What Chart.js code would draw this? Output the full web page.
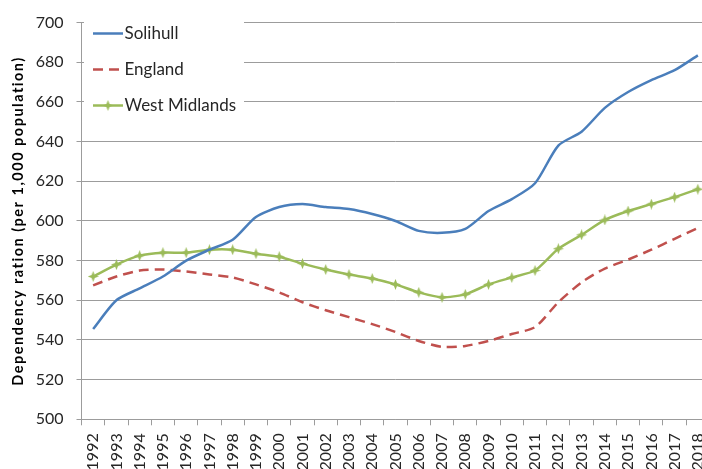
<!DOCTYPE html>
<html><head><meta charset="utf-8">
<script src="https://cdn.jsdelivr.net/npm/chart.js@4/dist/chart.umd.min.js"></script>
<style>
html,body{margin:0;padding:0;overflow:hidden;background:#fff;width:702px;height:469px}
#wrap{position:absolute;left:0;top:0;width:717px;height:469px}
canvas{display:block}
</style></head><body>
<div id="wrap"><canvas id="c" width="717" height="469"></canvas></div>
<script>
const years = ['1992','1993','1994','1995','1996','1997','1998','1999','2000','2001','2002','2003','2004','2005','2006','2007','2008','2009','2010','2011','2012','2013','2014','2015','2016','2017','2018'];
const solihull = [545.5,560,566,572,580,585.5,590.5,602,607,608.5,607,606,603.5,600,595,594,596,605,611,619,638,645,657,665,671,676,683.5];
const england = [567.5,572,575,575.5,574.5,573,571.5,568,564,559,555,551.5,548,544,539.5,536.5,537,539.5,543,546.5,559,569,576,580.5,585.5,591,596.5];
const westMidlands = [572,578,582.5,584,584,585.5,585.5,583.5,582,578.5,575.5,573,571,568,564,561.5,563,568,571.5,575,586,593,600.5,605,608.5,612,616];
const seriesNames = ['Solihull','England','West Midlands'];
const yMin = 500, yMax = 700, yStep = 20;
const yTitle = 'Dependency ration (per 1,000 population)';

const BLUE = '#4a7ebb', RED = '#c0504d', GREEN = '#9bbb59';
const GRID = '#9c9c9c';
const FONT = 'Lato, "Liberation Sans", sans-serif';

function starCanvas(size, color){
  const c = document.createElement('canvas');
  c.width = size; c.height = size;
  const g = c.getContext('2d');
  const m = size/2, k = size*0.36, j = size*0.64;
  g.fillStyle = color;
  g.beginPath();
  g.moveTo(m,0); g.lineTo(j,k); g.lineTo(size,m); g.lineTo(j,j);
  g.lineTo(m,size); g.lineTo(k,j); g.lineTo(0,m); g.lineTo(k,k);
  g.closePath(); g.fill();
  return c;
}
const star = starCanvas(11, GREEN);

const legendPlugin = {
  id: 'boxLegend',
  beforeDatasetsDraw(chart){
    const ctx = chart.ctx;
    ctx.save();
    ctx.fillStyle = '#fff';
    ctx.fillRect(84, 16, 160, 103);
    const items = [
      {name: seriesNames[0], color: BLUE, dash: [], y: 33.5},
      {name: seriesNames[1], color: RED, dash: [10,6], y: 69.5},
      {name: seriesNames[2], color: GREEN, dash: [], y: 105.5, marker: true}
    ];
    items.forEach(it => {
      ctx.strokeStyle = it.color;
      ctx.lineWidth = 2.5;
      ctx.setLineDash(it.dash);
      ctx.beginPath(); ctx.moveTo(93, it.y); ctx.lineTo(123, it.y); ctx.stroke();
      ctx.setLineDash([]);
      if (it.marker) ctx.drawImage(star, 108-5.5, it.y-5.5);
      ctx.fillStyle = '#262626';
      ctx.font = '17px ' + FONT;
      ctx.textBaseline = 'middle';
      ctx.textAlign = 'left';
      ctx.fillText(it.name, 124.5, it.y);
    });
    ctx.restore();
  },
  afterDraw(chart){
    const ctx = chart.ctx;
    const a = chart.chartArea;
    ctx.save();
    ctx.translate(18, (a.top + a.bottom) / 2);
    ctx.rotate(-Math.PI / 2);
    ctx.font = 'bold 14.5px ' + FONT;
    if ('letterSpacing' in ctx) ctx.letterSpacing = '1.5px';
    ctx.fillStyle = '#000';
    ctx.textAlign = 'center';
    ctx.textBaseline = 'middle';
    ctx.fillText(yTitle, 0, 0);
    ctx.restore();
  }
};

new Chart(document.getElementById('c'), {
  type: 'line',
  data: {
    labels: years,
    datasets: [
      {label: seriesNames[0], data: solihull, borderColor: BLUE, borderWidth: 2.5, pointRadius: 0, tension: 0.25, fill: false},
      {label: seriesNames[1], data: england, borderColor: RED, borderWidth: 2.5, borderDash: [10,6], pointRadius: 0, tension: 0.25, fill: false},
      {label: seriesNames[2], data: westMidlands, borderColor: GREEN, borderWidth: 2.5, pointStyle: star, pointRadius: 5, tension: 0.2, fill: false}
    ]
  },
  options: {
    responsive: false,
    animation: false,
    devicePixelRatio: 1,
    layout: {padding: {top: 22.5, right: 2.5, left: 0, bottom: 0}},
    plugins: {legend: {display: false}, tooltip: {enabled: false}},
    scales: {
      x: {
        type: 'category',
        offset: true,
        grid: {display: true, drawOnChartArea: false, offset: true, tickLength: 6, color: GRID, tickColor: GRID},
        border: {display: true, color: GRID, width: 1},
        ticks: {autoSkip: false, maxRotation: 90, minRotation: 90, padding: 8, color: '#262626', font: {family: FONT, size: 16}},
        afterFit(s){ s.height = 49.7; s.paddingLeft = 0; s.paddingRight = 0; }
      },
      y: {
        min: yMin, max: yMax,
        grid: {color: GRID, tickColor: GRID, tickLength: 5, lineWidth: 1},
        border: {display: true, color: GRID, width: 1},
        ticks: {stepSize: yStep, padding: 13, color: '#262626', font: {family: FONT, size: 16}},
        title: {display: false},
        afterFit(s){ s.width = 81.5; }
      }
    }
  },
  plugins: [legendPlugin]
});
</script>
</body></html>
